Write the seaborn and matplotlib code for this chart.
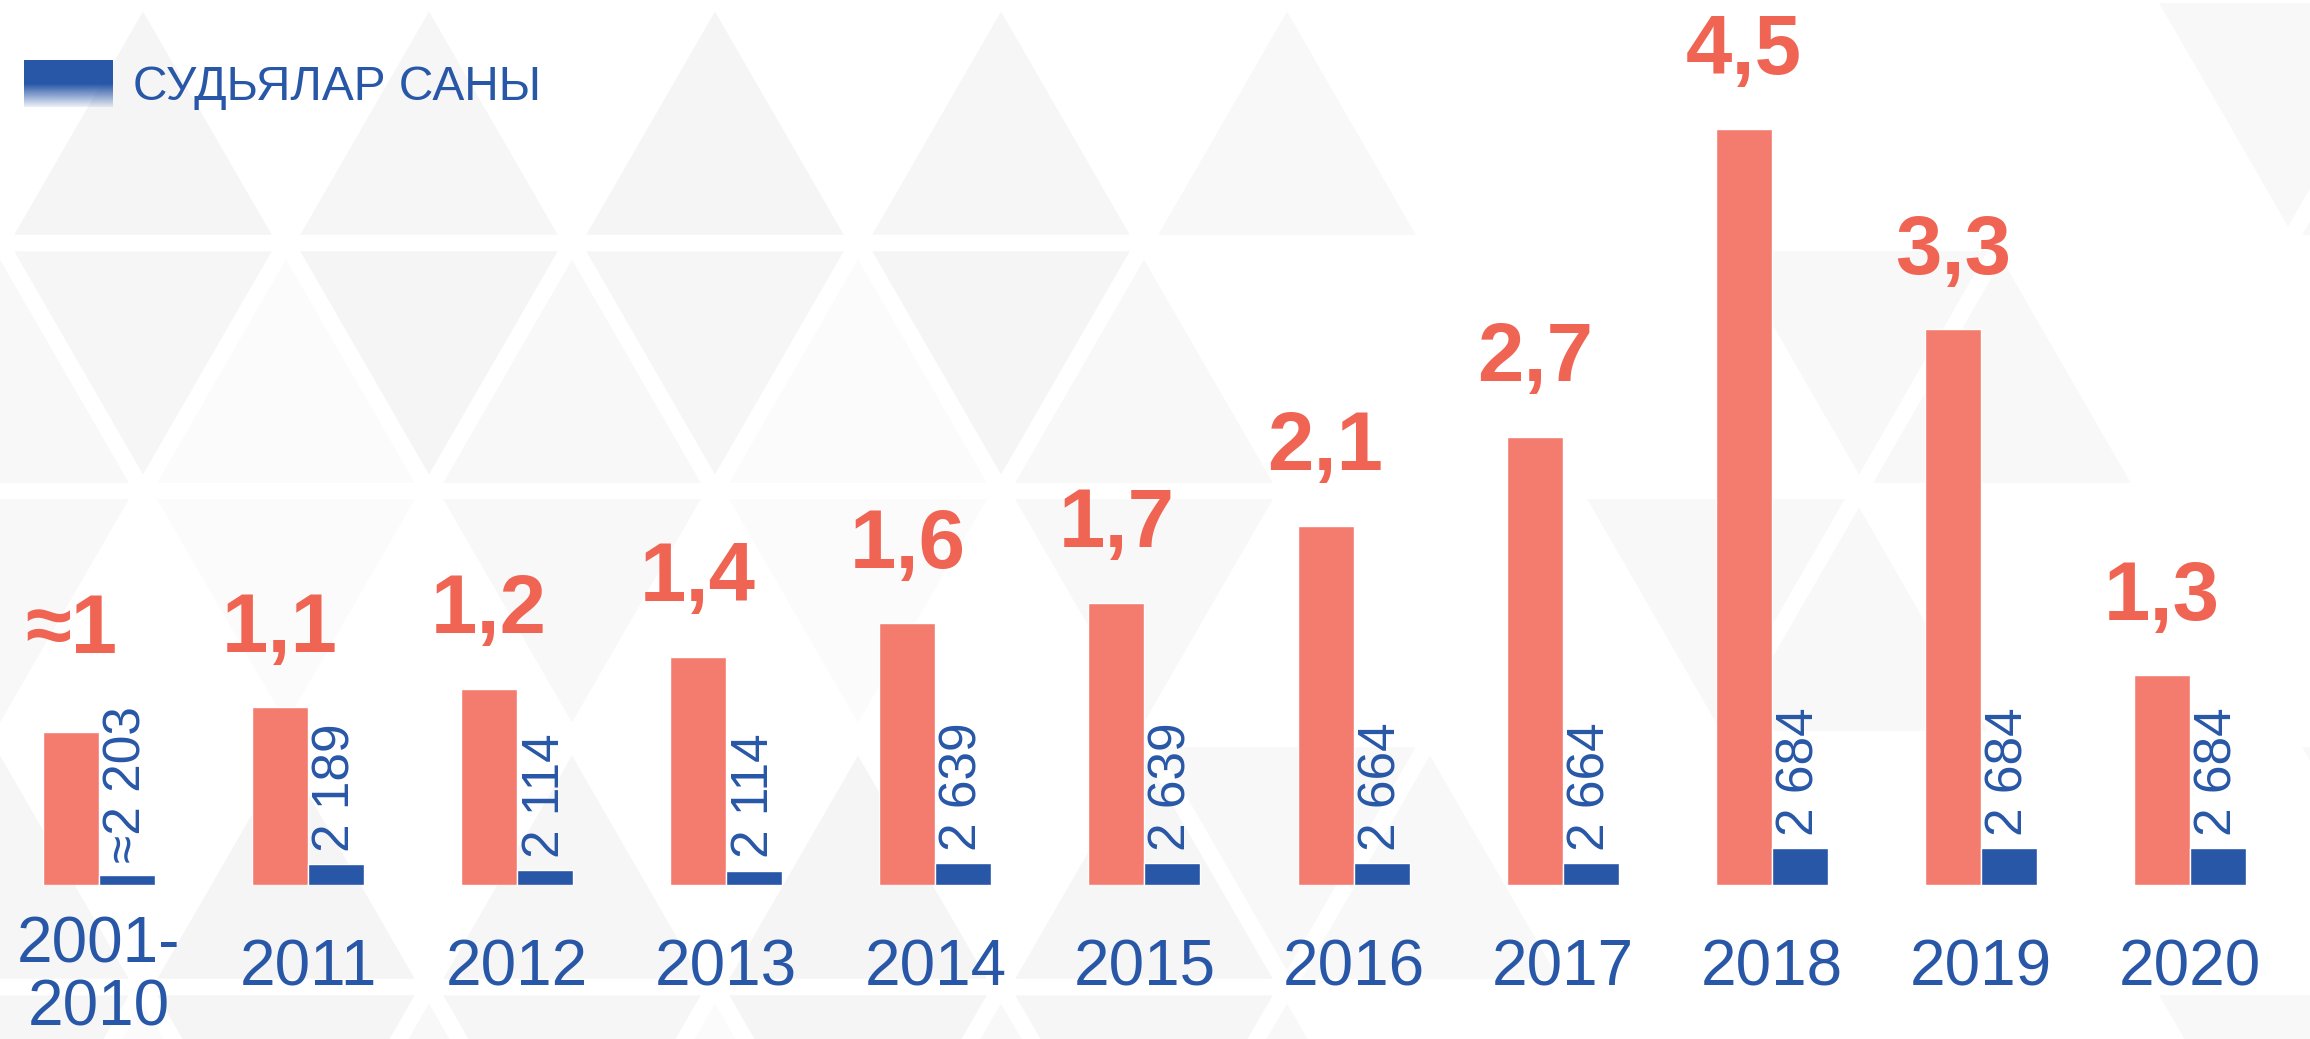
import matplotlib
matplotlib.use("Agg")
import matplotlib.pyplot as plt
from matplotlib.patches import Polygon
import matplotlib.transforms as mtransforms
import numpy as np
import pandas as pd
import seaborn as sns

# data
periods = ["2001-\n2010", "2011", "2012", "2013", "2014", "2015",
           "2016", "2017", "2018", "2019", "2020"]
load_values = [0.91, 1.06, 1.17, 1.36, 1.56, 1.68, 2.14, 2.67, 4.5, 3.31, 1.25]
load_labels = ["≈1", "1,1", "1,2", "1,4", "1,6", "1,7", "2,1", "2,7", "4,5", "3,3", "1,3"]
judges_bar = [0.06, 0.125, 0.09, 0.085, 0.13, 0.13, 0.13, 0.13, 0.22, 0.22, 0.22]
judges_labels = ["≈2 203", "2 189", "2 114", "2 114", "2 639", "2 639",
                 "2 664", "2 664", "2 684", "2 684", "2 684"]

red = "#F47C6F"
red_text = "#F06453"
blue = "#2857A7"

sns.set_style("white")
plt.rcParams['font.family'] = ['Liberation Sans', 'DejaVu Sans']

n = len(periods)
df = pd.DataFrame({
    'period': periods * 2,
    'height': load_values + judges_bar,
    'series': ['load'] * n + ['judges'] * n,
})

W, H = 2310, 1039
fig = plt.figure(figsize=(W / 100, H / 100), dpi=100, facecolor='white')

# pale triangle background (decoration only)
row_h, side = 248, 286
shades = ['#F5F5F5', '#F8F8F8', '#FFFFFF', '#F6F6F6', '#FBFBFB', '#FFFFFF']
for r in range(5):
    yt = -5 + r * row_h
    yb = yt + row_h
    for c in range(-1, 10):
        x0 = c * side - (r % 2) * side / 2
        tris = [[(x0, yb), (x0 + side, yb), (x0 + side / 2, yt)],
                [(x0 + side / 2, yt), (x0 + 1.5 * side, yt), (x0 + side, yb)]]
        for k, tri in enumerate(tris):
            pts = np.array(tri)
            cx = pts[:, 0].mean()
            shade = shades[(r * 7 + c * 3 + k * 2) % 6]
            if cx > 1150:
                shade = '#F8F8F8' if (r + c + k) % 4 == 0 else '#FFFFFF'
            if shade == '#FFFFFF':
                continue
            cen = pts.mean(axis=0)
            pts = cen + (pts - cen) * 0.9
            poly = Polygon(np.column_stack([pts[:, 0] / W, 1 - pts[:, 1] / H]),
                           closed=True, transform=fig.transFigure,
                           facecolor=shade, edgecolor='none', zorder=0)
            fig.add_artist(poly)

ax = fig.add_axes([0, 0.148, 1, 0.852])
ax.set_zorder(2)
sns.barplot(data=df, x='period', y='height', hue='series', order=periods,
            hue_order=['load', 'judges'], palette=[red, blue], width=0.536,
            gap=0, saturation=1, legend=False, errorbar=None, ax=ax)
ax.set_xlim(-0.473, 10.574)
ax.set_ylim(0, 5.27)
ax.axis('off')
ax.patch.set_visible(False)

label_tr = mtransforms.blended_transform_factory(ax.transData, fig.transFigure)
half = 0.134
for i in range(n):
    # red value labels
    ax.annotate(load_labels[i], (i - half, load_values[i]),
                xytext=(0, 57 if i == 0 else 40),
                textcoords='offset points', ha='center', va='baseline',
                fontsize=60, fontweight='bold', color=red_text)
    # judges count, rotated
    ax.annotate(judges_labels[i], (i + half, judges_bar[i]), xytext=(0, 9),
                textcoords='offset points', ha='center', va='bottom',
                rotation=90, fontsize=37, color=blue)
    # category labels
    ax.text(i, 1 - (1025 if i == 0 else 985) / H, periods[i], transform=label_tr,
            ha='center', va='baseline', fontsize=46, color=blue,
            linespacing=1.05, clip_on=False)

# legend: gradient box + text
lax = fig.add_axes([0.0104, 0.897, 0.0385, 0.0452])
lax.set_zorder(3)
rgb = matplotlib.colors.to_rgb(blue)
rows = np.arange(60)
alpha = np.where(rows < 30, 1.0, np.clip(1 - (rows - 30) / 32, 0.08, 1))
grad = np.zeros((60, 1, 4))
grad[:, 0, :3] = rgb
grad[:, 0, 3] = alpha
lax.imshow(grad, aspect='auto')
lax.axis('off')
fig.text(133 / W, 1 - 100 / H, "СУДЬЯЛАР САНЫ", ha='left', va='baseline',
         fontsize=34.5, color=blue, zorder=4)

fig.savefig("out.png", dpi=100, facecolor='white')
